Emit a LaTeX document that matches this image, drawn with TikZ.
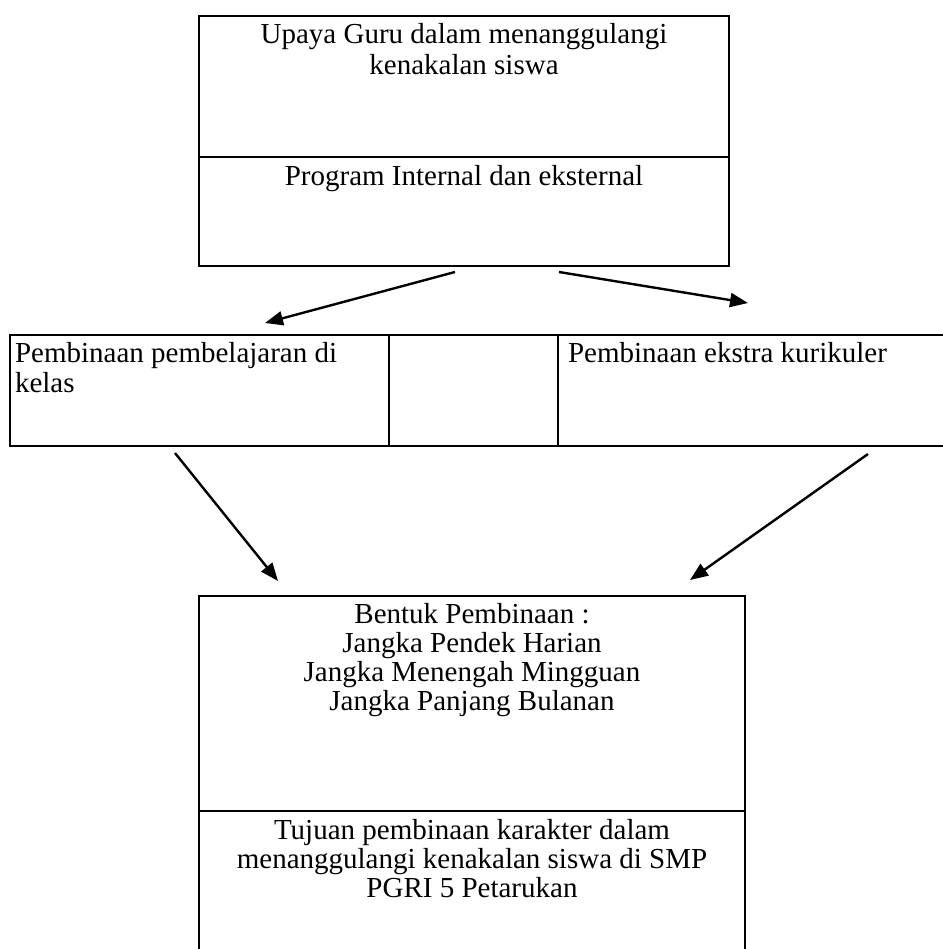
\documentclass[tikz,border=0pt]{standalone}
\usepackage{fontspec}
\setmainfont{Liberation Serif}
\usetikzlibrary{arrows.meta}
\begin{document}
\begin{tikzpicture}[x=1pt,y=-1pt,
  frame/.style={draw=black, line width=2.2pt, inner sep=0pt, outer sep=0pt},
  divline/.style={draw=black, line width=2.2pt},
  thindiv/.style={draw=black, line width=1.3pt},
  txt/.style={inner sep=0pt, outer sep=0pt, font=\fontsize{29}{33}\selectfont},
  conn/.style={line width=2.4pt, -{Triangle[length=18pt,width=14pt]}}]
\useasboundingbox (0,0) rectangle (942,949);

% top box
\node[frame, minimum width=530pt, minimum height=250pt, anchor=north west] (topbox) at (199,16) {};
\draw[divline] (199,157) -- (729,157);
\node[txt, anchor=base] (t1a) at (464,44) {Upaya Guru dalam menanggulangi};
\node[txt, anchor=base] (t1b) at (464,75) {kenakalan siswa};
\node[txt, anchor=base] (t2) at (464,186) {Program Internal dan eksternal};

% middle row
\node[frame, minimum width=934pt, minimum height=111pt, anchor=north west] (midrow) at (10,335) {};
\draw[thindiv] (389,335) -- (389,446);
\draw[thindiv] (558,335) -- (558,446);
\node[txt, anchor=base west] (m1a) at (15,362) {Pembinaan pembelajaran di};
\node[txt, anchor=base west] (m1b) at (15,392) {kelas};
\node[txt, anchor=base west] (m2) at (568,362) {Pembinaan ekstra kurikuler};

% bottom box
\node[frame, minimum width=546pt, minimum height=358pt, anchor=north west] (botbox) at (199,596) {};
\draw[divline] (199,811) -- (745,811);
\node[txt, anchor=base] (b1a) at (472,623) {Bentuk Pembinaan :};
\node[txt, anchor=base] (b1b) at (472,652) {Jangka Pendek Harian};
\node[txt, anchor=base] (b1c) at (472,681) {Jangka Menengah Mingguan};
\node[txt, anchor=base] (b1d) at (472,710) {Jangka Panjang Bulanan};
\node[txt, anchor=base] (b2a) at (472,839) {Tujuan pembinaan karakter dalam};
\node[txt, anchor=base] (b2b) at (472,868) {menanggulangi kenakalan siswa di SMP};
\node[txt, anchor=base] (b2c) at (472,897) {PGRI 5 Petarukan};

% connectors
\coordinate (a1s) at (455,272);
\coordinate (a1e) at (265,323);
\coordinate (a2s) at (559,272);
\coordinate (a2e) at (748,303);
\coordinate (a3s) at (175,453);
\coordinate (a3e) at (278,581);
\coordinate (a4s) at (868,454);
\coordinate (a4e) at (690,580);
\draw[conn] (a1s) -- (a1e);
\draw[conn] (a2s) -- (a2e);
\draw[conn] (a3s) -- (a3e);
\draw[conn] (a4s) -- (a4e);
\end{tikzpicture}
\end{document}
